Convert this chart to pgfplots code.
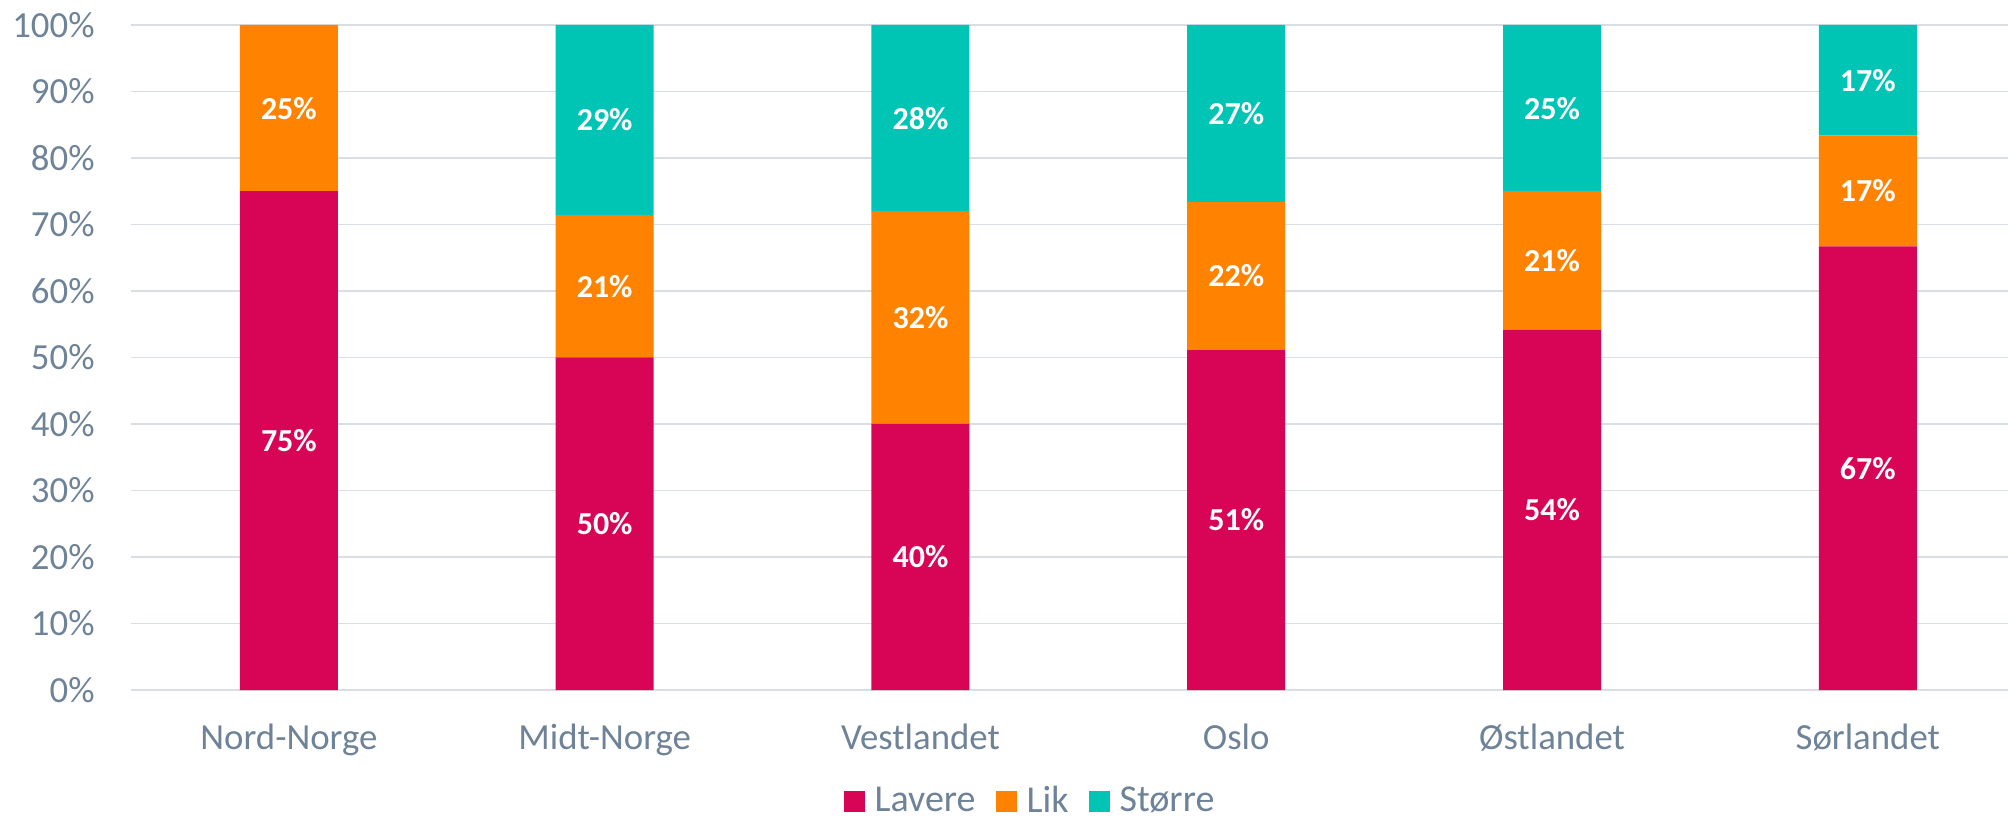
\documentclass[border=0pt]{standalone}
\usepackage{pgfplots}
\pgfplotsset{compat=1.18}
\usepackage{fontspec}
\setmainfont{Carlito}
\definecolor{lavere}{HTML}{D80556}
\definecolor{lik}{HTML}{FF8300}
\definecolor{storre}{HTML}{00C4B4}
\definecolor{txt}{HTML}{6E8398}
\definecolor{gridc}{HTML}{D9DEE4}
\begin{document}
\begin{tikzpicture}
\path[use as bounding box] (0pt,0pt) rectangle (1004pt,-411pt);
\coordinate (O) at (65.5pt,-345pt);
\begin{axis}[
  at={(O)}, anchor=south west,
  width=938.5pt, height=332.5pt, scale only axis,
  ybar stacked, bar width=49pt,
  xmin=-0.5, xmax=5.444, ymin=0, ymax=100,
  xtick={0,...,5},
  xticklabels={Nord-Norge,Midt-Norge,Vestlandet,Oslo,Østlandet,Sørlandet},
  ytick={0,10,...,100},
  yticklabel={\pgfmathprintnumber{\tick}\%},
  /pgf/number format/assume math mode=true,
  axis line style={draw=none},
  tick style={draw=none},
  ymajorgrids, grid style={gridc, line width=0.75pt},
  ticklabel style={font=\fontsize{18.4}{21}\selectfont, text=txt},
  yticklabel style={anchor=east, inner sep=0pt},
  yticklabel shift=18pt,
  xticklabel style={anchor=north, inner sep=0pt},
  xticklabel shift=17pt,
  clip=false,
  visualization depends on={rawy \as \rawy},
  nodes near coords={\ifdim\rawy pt>0.5pt \pgfmathprintnumber[fixed,precision=0]{\rawy}\%\fi},
  every node near coord/.append style={anchor=center, font=\fontsize{16}{19}\selectfont\bfseries, text=white},
  legend style={at={(0.4795,-0.167)}, anchor=center, draw=none, legend columns=3,
    font=\fontsize{19}{22}\selectfont, text=txt, inner sep=0pt,
    nodes={inner ysep=0pt},
    /tikz/every odd column/.append style={column sep=3pt},
    /tikz/every even column/.append style={column sep=8pt}},
  legend image code/.code={\fill[#1] (0pt,-5.25pt) rectangle (10.5pt,5.25pt);},
]
\addplot[fill=lavere, draw=none] coordinates {(0,75) (1,50) (2,40) (3,51.1) (4,54.2) (5,66.7)};
\addplot[fill=lik, draw=none] coordinates {(0,25) (1,21.4) (2,32) (3,22.3) (4,20.8) (5,16.7)};
\addplot[fill=storre, draw=none] coordinates {(0,0) (1,28.6) (2,28) (3,26.6) (4,25) (5,16.6)};
\legend{Lavere,Lik,Større}
\end{axis}
\end{tikzpicture}
\end{document}
